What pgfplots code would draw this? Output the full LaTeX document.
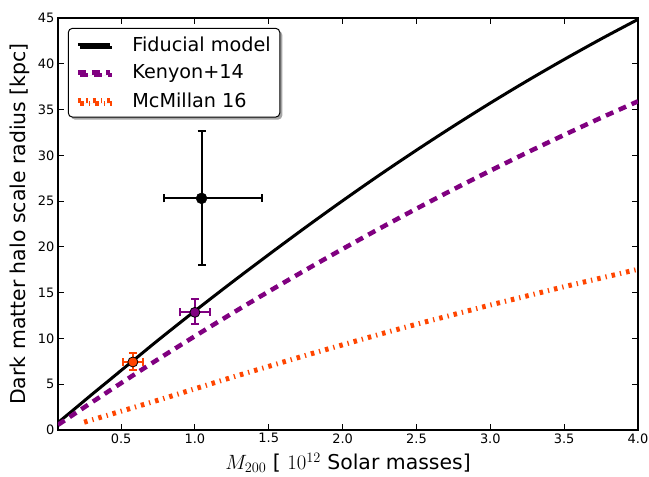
\documentclass[border=0pt]{standalone}
\usepackage{fontspec}
\setmainfont{DejaVu Sans}
\usepackage{pgfplots}
\pgfplotsset{compat=1.18}
\usetikzlibrary{shadows}
\definecolor{myorange}{RGB}{255,69,0}
\definecolor{mypurple}{RGB}{128,0,128}
\begin{document}
\begin{tikzpicture}
\begin{axis}[
  scale only axis, width=580bp, height=412bp,
  xmin=0.073, xmax=4.0, ymin=0, ymax=45,
  xtick={0.5,1,1.5,2,2.5,3,3.5,4},
  xticklabels={0.5,1.0,1.5,2.0,2.5,3.0,3.5,4.0},
  ytick={0,5,10,15,20,25,30,35,40,45},
  yticklabels={0,5,10,15,20,25,30,35,40,45},
  tick align=inside, major tick length=6bp,
  axis line style={line width=1.2bp},
  every tick/.style={black, line width=1bp},
  tick label style={font=\fontsize{13}{15}\selectfont},
  /pgf/number format/assume math mode=true,
  every axis x label/.style={at={(axis description cs:0.5,-0.08)}, anchor=center, font=\fontsize{20.5}{24}\selectfont},
  every axis y label/.style={at={(axis description cs:-0.066,0.5)}, rotate=90, anchor=center, font=\fontsize{20.5}{24}\selectfont},
  xlabel={$M_{200}$ [ $10^{12}$ Solar masses]},
  ylabel={Dark matter halo scale radius [kpc]},
  legend style={at={(0.017,0.976)}, anchor=north west, draw=black, line width=1bp,
    rounded corners=4bp, fill=white,
    drop shadow={shadow xshift=2.5bp, shadow yshift=-2.5bp, fill=gray!70, opacity=1},
    font=\fontsize{19.3}{23}\selectfont, row sep=8bp, column sep=18bp, inner xsep=7bp, inner ysep=6.5bp,
    cells={anchor=west}},
  legend image code/.code={\draw[#1] (0bp,0bp) -- (32bp,0bp);},
  legend cell align=left,
]
\addplot[black, line width=3bp, smooth] coordinates {
(0.073,0.8) (0.2,2.5) (0.3,3.85) (0.425,5.5) (0.5,6.5) (0.58,7.55) (0.75,9.8) (1.0,13.0) (1.25,16.12) (1.5,19.16) (1.75,22.14) (2.0,25.04) (2.25,27.85) (2.5,30.56) (2.75,33.18) (3.0,35.71) (3.25,38.14) (3.5,40.47) (3.75,42.71) (4.0,44.85)};
\addlegendentry{Fiducial model}
\addplot[mypurple, line width=4.5bp, dash pattern=on 8bp off 6bp, smooth] coordinates {
(0.073,0.56) (0.25,2.47) (0.5,5.12) (0.75,7.72) (1.0,10.25) (1.25,12.72) (1.5,15.13) (1.75,17.48) (2.0,19.77) (2.25,22.0) (2.5,24.17) (2.75,26.28) (3.0,28.32) (3.25,30.31) (3.5,32.23) (3.75,34.1) (4.0,35.9)};
\addlegendentry{Kenyon+14}
\addplot[myorange, line width=5bp, dash pattern=on 3.5bp off 5bp on 1.3bp off 5bp, smooth] coordinates {
(0.25,0.85) (0.5,2.05) (0.75,3.25) (1.0,4.5) (1.25,5.75) (1.5,6.95) (1.75,8.15) (2.0,9.3) (2.25,10.45) (2.5,11.55) (2.75,12.6) (3.0,13.65) (3.25,14.65) (3.5,15.65) (3.75,16.6) (4.0,17.55)};
\addlegendentry{McMillan 16}
\addplot[forget plot, only marks, draw=black, mark=*, mark size=5.5bp, mark options={fill=black, draw=black},
  error bars/.cd, x dir=both, x explicit, y dir=both, y explicit,
  error bar style={line width=2bp, draw=black},
  error mark=|,
  error mark options={line width=2bp, mark size=4bp, draw=black}]
  coordinates {(1.045,25.3) += (0.41,7.35) -= (0.255,7.3)};
\addplot[forget plot, only marks, draw=mypurple, mark=*, mark size=5bp, mark options={draw=black, fill=mypurple, line width=0.8bp},
  error bars/.cd, x dir=both, x explicit, y dir=both, y explicit,
  error bar style={line width=2bp, draw=mypurple},
  error mark=|,
  error mark options={line width=2bp, mark size=4bp, draw=mypurple}]
  coordinates {(1.0,12.85) += (0.105,1.45) -= (0.1,1.25)};
\addplot[forget plot, only marks, draw=myorange, mark=*, mark size=5bp, mark options={draw=black, fill=myorange, line width=0.8bp},
  error bars/.cd, x dir=both, x explicit, y dir=both, y explicit,
  error bar style={line width=2bp, draw=myorange},
  error mark=|,
  error mark options={line width=2bp, mark size=4bp, draw=myorange}]
  coordinates {(0.58,7.43) += (0.07,0.97) -= (0.065,0.93)};
\coordinate (sw) at (rel axis cs:0,0);
\coordinate (ne) at (rel axis cs:1,1);
\end{axis}
\pgfresetboundingbox
\path ([shift={(-58bp,-47bp)}]sw) rectangle ([shift={(11bp,18bp)}]ne);
\end{tikzpicture}
\end{document}
